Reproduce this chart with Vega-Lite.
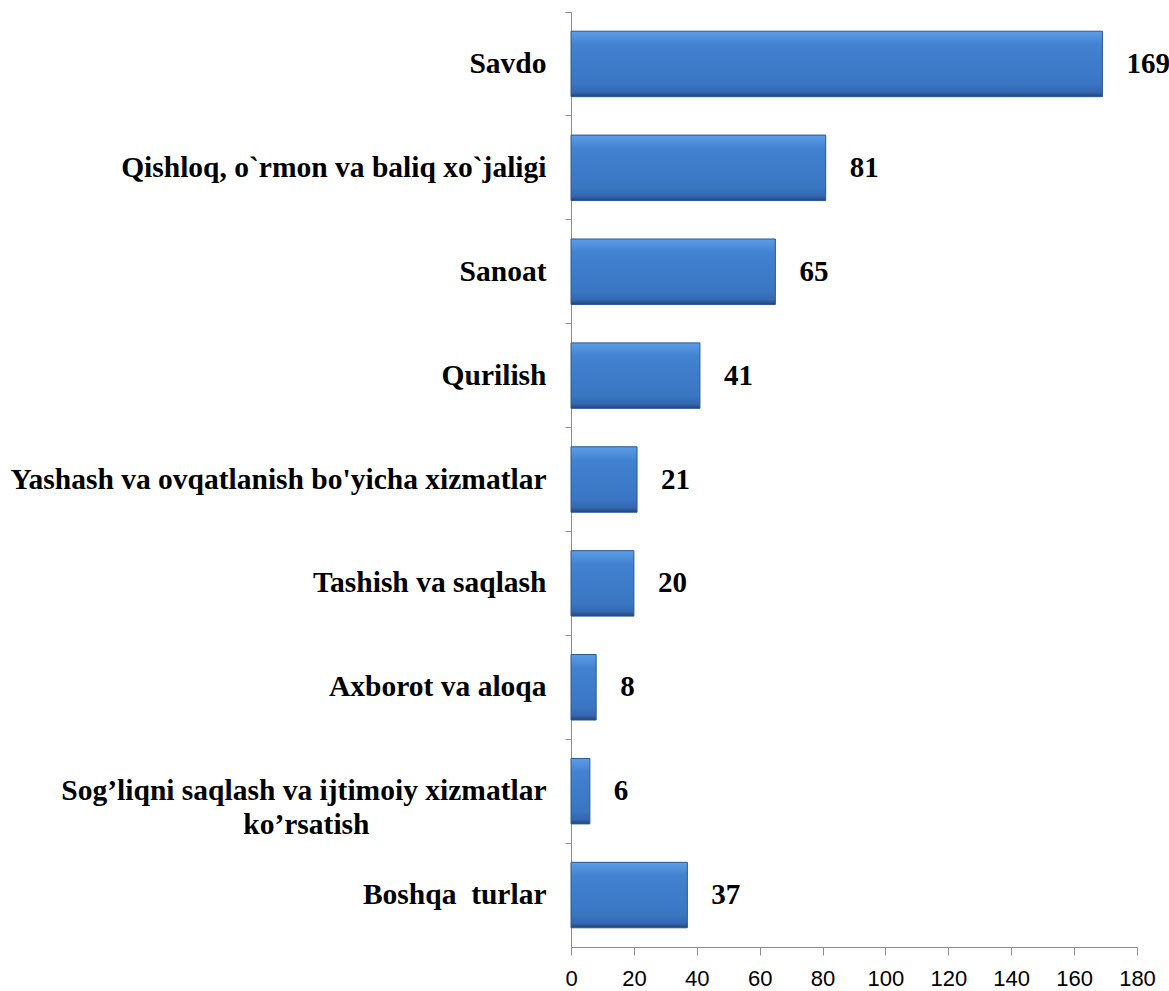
{
  "$schema": "https://vega.github.io/schema/vega-lite/v6.json",
  "autosize": "none",
  "width": 566,
  "height": 935,
  "padding": {"left": 571, "top": 12, "right": 32, "bottom": 44},
  "background": "white",
  "config": {"view": {"stroke": null}},
  "data": {"values": [
    {"cat": "Savdo", "v": 169},
    {"cat": "Qishloq, o`rmon va baliq xo`jaligi", "v": 81},
    {"cat": "Sanoat", "v": 65},
    {"cat": "Qurilish", "v": 41},
    {"cat": "Yashash va ovqatlanish bo'yicha xizmatlar", "v": 21},
    {"cat": "Tashish va saqlash", "v": 20},
    {"cat": "Axborot va aloqa ", "v": 8},
    {"cat": "Sog’liqni saqlash va ijtimoiy xizmatlar|ko’rsatish", "v": 6},
    {"cat": "Boshqa  turlar", "v": 37}
  ]},
  "encoding": {
    "y": {
      "field": "cat", "type": "nominal", "sort": null,
      "scale": {"paddingInner": 0, "paddingOuter": 0},
      "axis": {
        "title": null, "domainColor": "#8c8c8c", "tickColor": "#8c8c8c", "tickSize": 6,
        "bandPosition": 0, "tickExtra": true,
        "labelFont": "Liberation Serif", "labelFontWeight": "bold", "labelFontSize": 29.5,
        "labelColor": "black", "labelPadding": 19, "labelLimit": 600,
        "labelExpr": "indexof(datum.label, '|') >= 0 ? [split(datum.label, '|')[0], split(datum.label, '|')[1] + '\u00a0\u00a0\u00a0\u00a0\u00a0\u00a0\u00a0\u00a0\u00a0\u00a0\u00a0\u00a0\u00a0\u00a0\u00a0\u00a0\u00a0\u00a0\u00a0\u00a0\u00a0\u00a0\u00a0\u00a0\u200b'] : replace(datum.label, '  ', ' \u00a0')",
        "labelLineHeight": 34
      }
    },
    "x": {
      "field": "v", "type": "quantitative",
      "scale": {"domain": [0, 180], "nice": false},
      "axis": {
        "title": null, "values": [0,20,40,60,80,100,120,140,160,180], "grid": false,
        "domainColor": "#8c8c8c", "tickColor": "#8c8c8c", "tickSize": 8,
        "labelFont": "Liberation Sans", "labelFontSize": 22, "labelColor": "black",
        "labelPadding": 13, "labelFlush": false, "labelBound": false, "labelOverlap": false
      }
    }
  },
  "layer": [
    {
      "mark": {
        "type": "bar",
        "height": {"band": 0.63},
        "fill": {
          "gradient": "linear", "x1": 0, "y1": 0, "x2": 0, "y2": 1,
          "stops": [
            {"offset": 0, "color": "#5d9de6"},
            {"offset": 0.12, "color": "#4d8edb"},
            {"offset": 0.2, "color": "#4282d0"},
            {"offset": 0.8, "color": "#3a76c2"},
            {"offset": 0.93, "color": "#3468b2"},
            {"offset": 1, "color": "#1f4577"}
          ]
        },
        "stroke": "#2b5793", "strokeWidth": 1
      }
    },
    {
      "mark": {
        "type": "text", "align": "left", "dx": 24,
        "font": "Liberation Serif", "fontWeight": "bold", "fontSize": 29, "color": "black"
      },
      "encoding": {"text": {"field": "v", "type": "quantitative"}}
    }
  ]
}
